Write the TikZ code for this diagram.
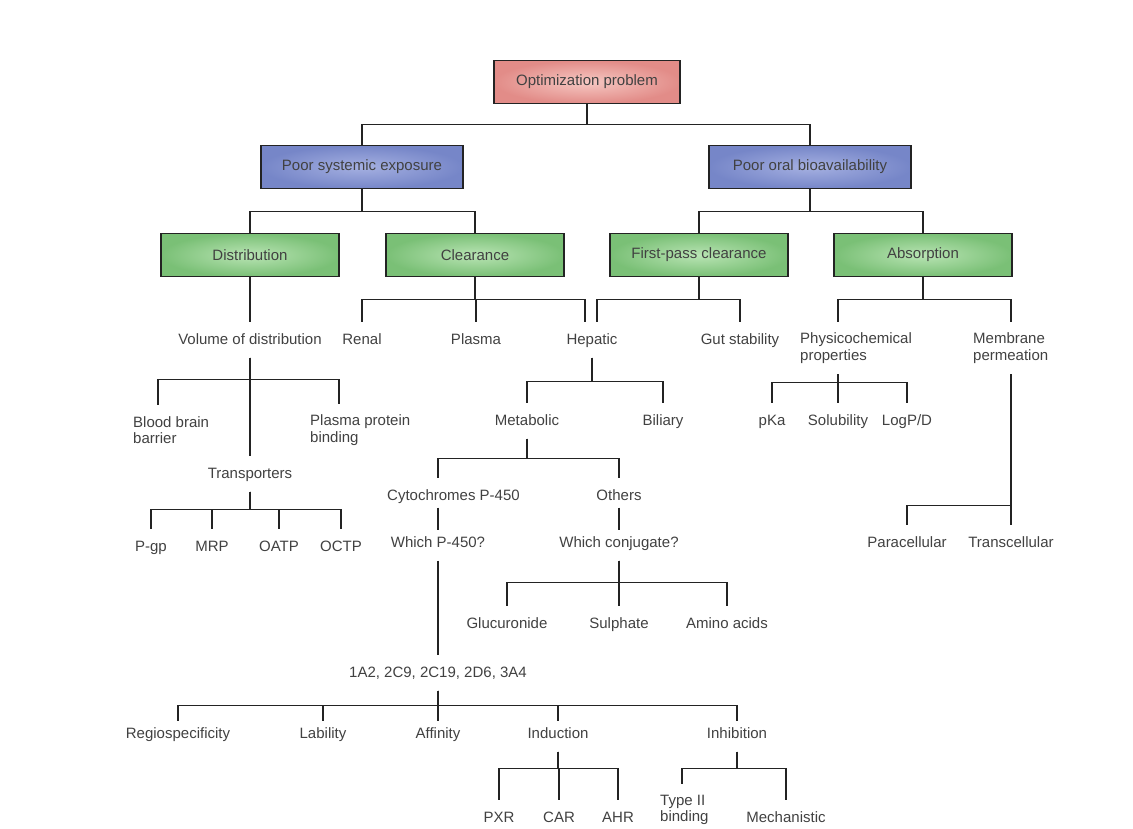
\documentclass[tikz,border=0pt]{standalone}
\usepackage{fontspec}
\setmainfont{Liberation Sans}
\definecolor{linegray}{RGB}{35,35,35}
\definecolor{txtgray}{RGB}{65,65,65}
\definecolor{redout}{RGB}{226,140,136}
\definecolor{redin}{RGB}{246,200,195}
\definecolor{blueout}{RGB}{118,134,200}
\definecolor{bluein}{RGB}{165,176,225}
\definecolor{greenout}{RGB}{122,192,118}
\definecolor{greenin}{RGB}{185,228,180}
\tikzset{
  box/.style={draw=linegray, line width=1.3pt, minimum height=43pt, minimum width=178pt,
    font=\fontsize{15}{16.5}\selectfont, text=txtgray},
  redbox/.style={box, minimum width=186pt, inner color=redin, outer color=redout},
  bluebox/.style={box, minimum width=202pt, inner color=bluein, outer color=blueout},
  greenbox/.style={box, inner color=greenin, outer color=greenout},
  lbl/.style={font=\fontsize{15}{16.5}\selectfont, text=txtgray, text height=11pt,
    text depth=3pt, inner ysep=10.5pt, inner xsep=0pt},
  lbltwo/.style={font=\fontsize{15}{16.5}\selectfont, text=txtgray, align=left,
    inner ysep=11pt, inner xsep=0pt, anchor=west},
  link/.style={draw=linegray, line width=1.1pt}
}
\begin{document}
\begin{tikzpicture}[x=1pt, y=-1pt]
	\useasboundingbox (0,0) rectangle (1133,828);
	% coloured boxes
	\node[redbox] (opt) at (587,82) {Optimization problem};
	\node[bluebox] (pse) at (362,167) {Poor systemic exposure};
	\node[bluebox] (pob) at (810,167) {Poor oral bioavailability};
	\node[greenbox] (dis) at (250,255) {Distribution};
	\node[greenbox] (clr) at (475,255) {Clearance};
	\node[greenbox] (fpc) at (699,255) {First-pass clearance};
	\node[greenbox] (abs) at (923,255) {Absorption};
	\foreach \c in {pse,pob} \draw[link] (opt.south) -- ++(0,20) -| (\c.north);
	\foreach \c in {dis,clr} \draw[link] (pse.south) -- ++(0,22) -| (\c.north);
	\foreach \c in {fpc,abs} \draw[link] (pob.south) -- ++(0,22) -| (\c.north);
	% third row
	\node[lbl] (vod) at (250,340) {Volume of distribution};
	\node[lbl] (ren) at (362,340) {Renal};
	\node[lbl] (pla) at (476,340) {Plasma};
	\node[lbl] (hep) at (592,340) {Hepatic};
	\node[lbl] (gut) at (740,340) {Gut stability};
	\node[lbltwo] (phy) at (800,348) {Physicochemical\\properties};
	\node[lbltwo] (mem) at (973,348) {Membrane\\permeation};
	\draw[link] (dis.south) -- (vod.north);
	\foreach \c in {ren,pla} \draw[link] (clr.south) -- ++(0,22) -| (\c.north);
	\draw[link] (clr.south) -- ++(0,22) -| ([xshift=-7pt]hep.north);
	\draw[link] (fpc.south) -- ++(0,22) -| ([xshift=5pt]hep.north);
	\draw[link] (fpc.south) -- ++(0,22) -| (gut.north);
	\draw[link] (abs.south) -- ++(0,22) -| ([xshift=38pt]phy.north west);
	\draw[link] (abs.south) -- ++(0,22) -| ([xshift=38pt]mem.north west);
	% distribution branch
	\node[lbltwo] (bbb) at (133,430) {Blood brain\\barrier};
	\node[lbltwo] (ppb) at (310,430) {Plasma protein\\binding};
	\node[lbl] (trs) at (250,474) {Transporters};
	\draw[link] (vod.south) -- (trs.north);
	\draw[link] (vod.south) -- ++(0,22) -| ([xshift=25pt]bbb.north west);
	\draw[link] (vod.south) -- ++(0,22) -| ([xshift=29pt]ppb.north west);
	\node[lbl] (pgp) at (151,547) {P-gp};
	\node[lbl] (mrp) at (212,547) {MRP};
	\node[lbl] (oat) at (279,547) {OATP};
	\node[lbl] (oct) at (341,547) {OCTP};
	\foreach \c in {pgp,mrp,oat,oct} \draw[link] (trs.south) -- ++(0,18) -| (\c.north);
	% hepatic branch
	\node[lbl] (met) at (527,421) {Metabolic};
	\node[lbl] (bil) at (663,421) {Biliary};
	\foreach \c in {met,bil} \draw[link] (hep.south) -- ++(0,24) -| (\c.north);
	\node[lbl, anchor=west] (cyt) at (387,496) {Cytochromes P-450};
	\node[lbl] (oth) at (619,496) {Others};
	\draw[link] (met.south) -- ++(0,20) -| ([xshift=51pt]cyt.north west);
	\draw[link] (met.south) -- ++(0,20) -| (oth.north);
	\node[lbl] (wpf) at (438,543) {Which P-450?};
	\node[lbl] (wcj) at (619,543) {Which conjugate?};
	\draw[link, shorten <=-6pt, shorten >=-5pt] ([xshift=51pt]cyt.south west) -- (wpf.north);
	\draw[link, shorten <=-6pt, shorten >=-5pt] (oth.south) -- (wcj.north);
	\node[lbl] (glu) at (507,624) {Glucuronide};
	\node[lbl] (sul) at (619,624) {Sulphate};
	\node[lbl] (ami) at (727,624) {Amino acids};
	\foreach \c in {glu,sul,ami} \draw[link] (wcj.south) -- ++(0,22) -| (\c.north);
	% P-450 isoforms
	\node[lbl] (cyp) at (438,673) {1A2, 2C9, 2C19, 2D6, 3A4};
	\draw[link] (wpf.south) -- (cyp.north);
	\node[lbl] (reg) at (178,734) {Regiospecificity};
	\node[lbl] (lab) at (323,734) {Lability};
	\node[lbl] (aff) at (438,734) {Affinity};
	\node[lbl] (ind) at (558,734) {Induction};
	\node[lbl] (inh) at (737,734) {Inhibition};
	\foreach \c in {reg,lab,aff,ind,inh} \draw[link, shorten >=-5pt] (cyp.south) -- ++(0,15) -| (\c.north);
	\node[lbl] (pxr) at (499,818) {PXR};
	\node[lbl] (car) at (559,818) {CAR};
	\node[lbl] (ahr) at (618,818) {AHR};
	\foreach \c in {pxr,car,ahr} \draw[link] (ind.south) -- ++(0,17) -| (\c.north);
	\node[lbltwo] (tyb) at (660,810) {Type II\\binding};
	\node[lbl] (mec) at (786,818) {Mechanistic};
	\draw[link] (inh.south) -- ++(0,17) -| ([xshift=22pt]tyb.north west);
	\draw[link] (inh.south) -- ++(0,17) -| (mec.north);
	% absorption branch
	\node[lbl] (pka) at (772,421) {pKa};
	\node[lbl] (sol) at (838,421) {Solubility};
	\node[lbl] (lgp) at (907,421) {LogP/D};
	\foreach \c in {pka,sol,lgp} \draw[link] ([xshift=38pt]phy.south west) -- ++(0,8) -| (\c.north);
	\node[lbl] (par) at (907,543) {Paracellular};
	\node[lbl] (trc) at (1011,543) {Transcellular};
	\foreach \c in {par,trc} \draw[link] ([xshift=38pt]mem.south west) -- ++(0,131) -| (\c.north);
\end{tikzpicture}
\end{document}
